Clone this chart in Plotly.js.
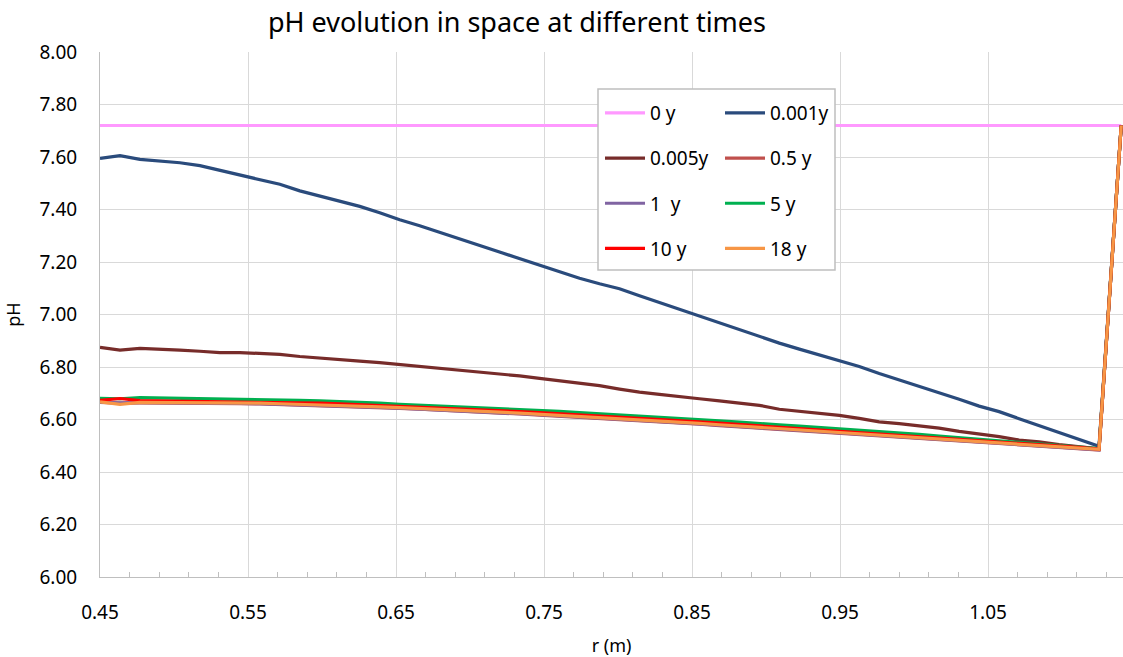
<!DOCTYPE html>
<html>
<head>
<meta charset="utf-8">
<script src="https://cdn.plot.ly/plotly-3.0.1.min.js"></script>
<style>html,body{margin:0;padding:0;background:#fff;}#chart{width:1123px;height:657px;}</style>
</head>
<body>
<div id="chart"></div>
<script>
// radial positions (m)
const r = [0.45, 0.4635, 0.477, 0.4905, 0.504, 0.5175, 0.531, 0.5445, 0.558, 0.5715,
  0.585, 0.5985, 0.612, 0.6255, 0.639, 0.6525, 0.666, 0.6795, 0.693, 0.7065,
  0.72, 0.7335, 0.747, 0.7605, 0.774, 0.7875, 0.801, 0.8145, 0.828, 0.8415,
  0.855, 0.8685, 0.882, 0.8955, 0.909, 0.9225, 0.936, 0.9495, 0.963, 0.9765,
  0.99, 1.0035, 1.017, 1.0305, 1.044, 1.0575, 1.071, 1.0845, 1.098, 1.1115,
  1.125, 1.14];

const seriesNames = ["0 y", "0.001y", "0.005y", "0.5 y", "1\u00a0 y", "5 y", "10 y", "18 y"];

const pH_0y = [7.72, 7.72, 7.72, 7.72, 7.72, 7.72, 7.72, 7.72, 7.72, 7.72,
  7.72, 7.72, 7.72, 7.72, 7.72, 7.72, 7.72, 7.72, 7.72, 7.72,
  7.72, 7.72, 7.72, 7.72, 7.72, 7.72, 7.72, 7.72, 7.72, 7.72,
  7.72, 7.72, 7.72, 7.72, 7.72, 7.72, 7.72, 7.72, 7.72, 7.72,
  7.72, 7.72, 7.72, 7.72, 7.72, 7.72, 7.72, 7.72, 7.72, 7.72,
  7.72, 7.72];

const pH_0001y = [7.595, 7.605, 7.591, 7.586, 7.578, 7.567, 7.549, 7.531, 7.513, 7.496,
  7.471, 7.452, 7.431, 7.412, 7.388, 7.361, 7.338, 7.313, 7.289, 7.263,
  7.238, 7.212, 7.187, 7.164, 7.138, 7.117, 7.098, 7.071, 7.045, 7.018,
  6.992, 6.967, 6.943, 6.917, 6.891, 6.868, 6.846, 6.822, 6.802, 6.775,
  6.751, 6.725, 6.702, 6.677, 6.651, 6.630, 6.603, 6.577, 6.549, 6.524,
  6.498, 7.72];

const pH_0005y = [6.875, 6.864, 6.871, 6.866, 6.864, 6.860, 6.855, 6.855, 6.852, 6.848,
  6.840, 6.835, 6.830, 6.822, 6.817, 6.810, 6.804, 6.797, 6.789, 6.780,
  6.774, 6.766, 6.757, 6.748, 6.739, 6.729, 6.716, 6.704, 6.696, 6.686,
  6.679, 6.671, 6.663, 6.654, 6.639, 6.631, 6.623, 6.616, 6.604, 6.591,
  6.584, 6.577, 6.567, 6.555, 6.546, 6.535, 6.522, 6.515, 6.504, 6.496,
  6.488, 7.72];

const pH_05y = [6.665, 6.662, 6.663, 6.663, 6.662, 6.662, 6.661, 6.660, 6.659, 6.657,
  6.655, 6.653, 6.651, 6.648, 6.645, 6.642, 6.639, 6.636, 6.633, 6.629,
  6.625, 6.621, 6.617, 6.613, 6.609, 6.604, 6.600, 6.596, 6.592, 6.587,
  6.582, 6.577, 6.572, 6.567, 6.562, 6.557, 6.552, 6.547, 6.542, 6.537,
  6.532, 6.527, 6.522, 6.517, 6.512, 6.507, 6.502, 6.497, 6.493, 6.489,
  6.484, 7.72];

const pH_1y = [6.666, 6.663, 6.664, 6.664, 6.663, 6.663, 6.662, 6.661, 6.660, 6.658,
  6.656, 6.654, 6.652, 6.649, 6.646, 6.643, 6.640, 6.637, 6.634, 6.630,
  6.626, 6.622, 6.618, 6.614, 6.610, 6.605, 6.601, 6.597, 6.593, 6.588,
  6.583, 6.578, 6.573, 6.568, 6.563, 6.558, 6.553, 6.548, 6.543, 6.538,
  6.533, 6.528, 6.523, 6.518, 6.513, 6.508, 6.503, 6.498, 6.494, 6.490,
  6.485, 7.72];

const pH_5y = [6.681, 6.679, 6.683, 6.682, 6.680, 6.679, 6.679, 6.678, 6.676, 6.674,
  6.673, 6.671, 6.669, 6.666, 6.662, 6.658, 6.655, 6.652, 6.649, 6.646,
  6.642, 6.638, 6.634, 6.631, 6.626, 6.622, 6.617, 6.614, 6.609, 6.604,
  6.600, 6.595, 6.590, 6.586, 6.580, 6.575, 6.570, 6.566, 6.560, 6.554,
  6.548, 6.543, 6.537, 6.531, 6.525, 6.519, 6.513, 6.507, 6.502, 6.496,
  6.489, 7.72];

const pH_10y = [6.673, 6.680, 6.672, 6.671, 6.670, 6.670, 6.669, 6.669, 6.668, 6.666,
  6.664, 6.662, 6.660, 6.657, 6.654, 6.651, 6.648, 6.645, 6.641, 6.637,
  6.634, 6.630, 6.626, 6.622, 6.618, 6.613, 6.609, 6.605, 6.600, 6.596,
  6.591, 6.586, 6.581, 6.576, 6.571, 6.566, 6.561, 6.556, 6.551, 6.546,
  6.541, 6.535, 6.530, 6.525, 6.520, 6.515, 6.510, 6.505, 6.499, 6.494,
  6.487, 7.72];

const pH_18y = [6.667, 6.658, 6.665, 6.665, 6.664, 6.664, 6.663, 6.663, 6.662, 6.660,
  6.658, 6.656, 6.654, 6.651, 6.648, 6.645, 6.642, 6.639, 6.636, 6.632,
  6.628, 6.624, 6.620, 6.616, 6.612, 6.607, 6.603, 6.599, 6.595, 6.590,
  6.585, 6.580, 6.575, 6.570, 6.565, 6.560, 6.555, 6.550, 6.545, 6.540,
  6.535, 6.530, 6.525, 6.520, 6.515, 6.510, 6.505, 6.500, 6.496, 6.491,
  6.486, 7.72];

const seriesValues = [pH_0y, pH_0001y, pH_0005y, pH_05y, pH_1y, pH_5y, pH_10y, pH_18y];
const seriesColors = ["#FF99FF", "#2A4B7C", "#772C2A", "#C0504D", "#8064A2", "#00B050", "#FF0000", "#F79646"];
const legendOf = ["legend", "legend2", "legend", "legend2", "legend", "legend2", "legend", "legend2"];

const FONT = "Noto Sans, Lato, sans-serif";

const traces = seriesValues.map((vals, i) => ({
  type: "scatter",
  mode: "lines",
  x: r,
  y: vals,
  name: seriesNames[i],
  legend: legendOf[i],
  legendgroup: "g" + i,
  line: {color: seriesColors[i], width: 3.2},
  hoverinfo: "x+y+name"
}));

const legendCommon = {
  bgcolor: "rgba(0,0,0,0)",
  borderwidth: 0,
  font: {family: FONT, size: 19, color: "#000"},
  tracegroupgap: 17.5,
  traceorder: "grouped",
  xanchor: "left",
  yanchor: "top",
  itemwidth: 40
};

const layout = {
  width: 1123,
  height: 657,
  paper_bgcolor: "#fff",
  plot_bgcolor: "#fff",
  margin: {l: 100, r: 0, t: 52, b: 80},
  font: {family: FONT, size: 19, color: "#000"},
  title: {
    text: "pH evolution in space at different times",
    font: {family: FONT, size: 27, color: "#000"},
    x: 517 / 1123, xref: "container", xanchor: "center",
    y: 1 - 23 / 657, yref: "container", yanchor: "middle"
  },
  xaxis: {
    range: [0.45, 1.1412],
    tick0: 0.45, dtick: 0.1, tickformat: ".2f",
    showgrid: true, gridcolor: "#d9d9d9", gridwidth: 1,
    showline: true, linecolor: "#bfbfbf", linewidth: 1,
    zeroline: false, ticks: "",
    ticklabelstandoff: 18,
    tickfont: {family: FONT, size: 19, color: "#000"},
    minor: {tick0: 0.45, dtick: 0.02, ticks: "inside", ticklen: 5, tickcolor: "#bfbfbf", showgrid: false},
    title: {text: "r (m)", font: {family: FONT, size: 18, color: "#000"}, standoff: 16}
  },
  yaxis: {
    range: [6, 8],
    tick0: 6, dtick: 0.2, tickformat: ".2f",
    showgrid: true, gridcolor: "#d9d9d9", gridwidth: 1,
    showline: true, linecolor: "#bfbfbf", linewidth: 1,
    zeroline: false, ticks: "",
    ticklabelstandoff: 18,
    tickfont: {family: FONT, size: 19, color: "#000"},
    title: {text: "pH", font: {family: FONT, size: 18, color: "#000"}, standoff: 14}
  },
  legend: Object.assign({}, legendCommon, {x: (600 - 100) / 1023, y: (577 - 94) / 525}),
  legend2: Object.assign({}, legendCommon, {x: (720 - 100) / 1023, y: (577 - 94) / 525}),
  shapes: [{
    type: "rect", xref: "paper", yref: "paper", layer: "above",
    x0: (598 - 100) / 1023, x1: (835 - 100) / 1023,
    y0: (577 - 270) / 525, y1: (577 - 89) / 525,
    fillcolor: "#ffffff", line: {color: "#bfbfbf", width: 1.5}
  }],
  showlegend: true
};

Plotly.newPlot("chart", traces, layout, {displayModeBar: false, staticPlot: true});
</script>
</body>
</html>
